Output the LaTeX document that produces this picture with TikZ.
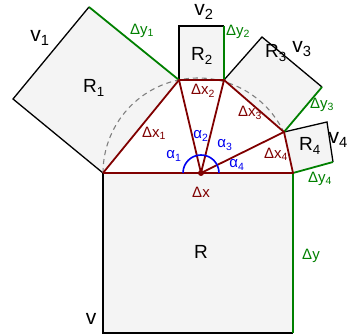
\documentclass[tikz,border=0pt]{standalone}
\usepackage{fontspec}
\setmainfont{Liberation Sans}
\usepackage{tikz}
\usetikzlibrary{positioning}

\definecolor{edgered}{RGB}{128,0,0}
\definecolor{edgegreen}{RGB}{0,128,0}
\definecolor{anglblue}{RGB}{0,0,240}
\definecolor{boxfill}{RGB}{244,244,244}

\begin{document}
\begin{tikzpicture}[x=1pt, y=-1pt,
  % Rectangles = light fill, thin black outline
  boxfill/.style={fill=boxfill},
  boxline/.style={draw=black, line width=1.3pt, line join=miter},
  heightline/.style={draw=edgegreen, line width=1.8pt},
  chordline/.style={draw=edgered, line width=1.8pt, line join=round},
  guide/.style={draw=gray, line width=1.1pt, dash pattern=on 5pt off 4pt},
  % Labels
  vlab/.style={inner sep=0pt, font=\fontsize{21}{21}\selectfont},
  rlab/.style={inner sep=0pt, font=\fontsize{19}{19}\selectfont},
  dlab/.style={inner sep=0pt, font=\fontsize{15}{15}\selectfont},
  alab/.style={inner sep=0pt, text=anglblue, font=\fontsize{15}{15}\selectfont}
]
\useasboundingbox (0,0) rectangle (348,336);

% ---- Chord points on the circle ----
\coordinate (p0) at (103,173);
\coordinate (p1) at (179,80);
\coordinate (p2) at (224,80);
\coordinate (p3) at (284,132);
\coordinate (p4) at (293,173);
\coordinate (ctr) at (201,173);

% ---- Outer corners of the rectangles ----
\coordinate (a1) at (13,99);   \coordinate (b1) at (89,7);
\coordinate (a2) at (179,26);  \coordinate (b2) at (224,26);
\coordinate (a3) at (262,37);  \coordinate (b3) at (322,87);
\coordinate (a4) at (327,122); \coordinate (b4) at (333,162);
\coordinate (rbl) at (103,333); \coordinate (rbr) at (293,333);

% ---- Fills ----
\fill[boxfill] (p0) -- (a1) -- (b1) -- (p1) -- cycle;
\fill[boxfill] (p1) -- (a2) -- (b2) -- (p2) -- cycle;
\fill[boxfill] (p2) -- (a3) -- (b3) -- (p3) -- cycle;
\fill[boxfill] (p3) -- (a4) -- (b4) -- (p4) -- cycle;
\fill[boxfill] (p0) -- (rbl) -- (rbr) -- (p4) -- cycle;

% ---- Black sides ----
\draw[boxline] (p0) -- (a1) -- (b1);
\draw[boxline] (p1) -- (a2) -- (b2);
\draw[boxline] (p2) -- (a3) -- (b3);
\draw[boxline] (p3) -- (a4) -- (b4);
\draw[boxline] (p0) -- (rbl) -- (rbr);

% ---- Green sides ----
\draw[heightline] (b1) -- (p1);
\draw[heightline] (b2) -- (p2);
\draw[heightline] (b3) -- (p3);
\draw[heightline] (b4) -- (p4);
\draw[heightline] (rbr) -- (p4);

% ---- Dashed circle ----
\draw[guide] (p0) arc[start angle=180, end angle=26, radius=95pt];

% ---- Chords and spokes ----
\draw[chordline] (p0) -- (p1) -- (p2) -- (p3) -- (p4) -- (p0);
\draw[chordline] (ctr) -- (p1);
\draw[chordline] (ctr) -- (p2);
\draw[chordline] (ctr) -- (p3);
\draw[anglblue, line width=1.6pt] ([xshift=-18pt]ctr) arc[start angle=180, end angle=0, radius=18pt];
\fill[edgered] (ctr) circle (3pt);

% ---- Labels ----
\node[vlab] (v1) at (40,38) {v\textsubscript{1}};
\node[vlab] (v2) at (204,12) {v\textsubscript{2}};
\node[vlab] (v3) at (302,49) {v\textsubscript{3}};
\node[vlab, anchor=east] (v4) at (348,140) {v\textsubscript{4}};
\node[vlab] (v0) at (91,319) {v};

\node[rlab] (r1) at (94,88) {R\textsubscript{1}};
\node[rlab] (r2) at (202,56) {R\textsubscript{2}};
\node[rlab] (r3) at (276,53) {R\textsubscript{3}};
\node[rlab] (r4) at (310,146) {R\textsubscript{4}};
\node[rlab] (r0) at (201,252) {R};

\node[dlab, text=edgegreen] (dy1) at (142,31) {Δy\textsubscript{1}};
\node[dlab, text=edgegreen] (dy2) at (238,32) {Δy\textsubscript{2}};
\node[dlab, text=edgegreen] (dy3) at (322,105) {Δy\textsubscript{3}};
\node[dlab, text=edgegreen] (dy4) at (320,179) {Δy\textsubscript{4}};
\node[dlab, text=edgegreen] (dy0) at (311,256) {Δy};

\node[dlab, text=edgered] (dx1) at (154,133) {Δx\textsubscript{1}};
\node[dlab, text=edgered] (dx2) at (203,91) {Δx\textsubscript{2}};
\node[dlab, text=edgered] (dx3) at (250,113) {Δx\textsubscript{3}};
\node[dlab, text=edgered] (dx4) at (276,154) {Δx\textsubscript{4}};
\node[dlab, text=edgered] (dx0) at (201,192) {Δx};

\node[alab] (al1) at (174,156) {α\textsubscript{1}};
\node[alab] (al2) at (201,136) {α\textsubscript{2}};
\node[alab] (al3) at (225,145) {α\textsubscript{3}};
\node[alab] (al4) at (237,165) {α\textsubscript{4}};

\end{tikzpicture}
\end{document}
